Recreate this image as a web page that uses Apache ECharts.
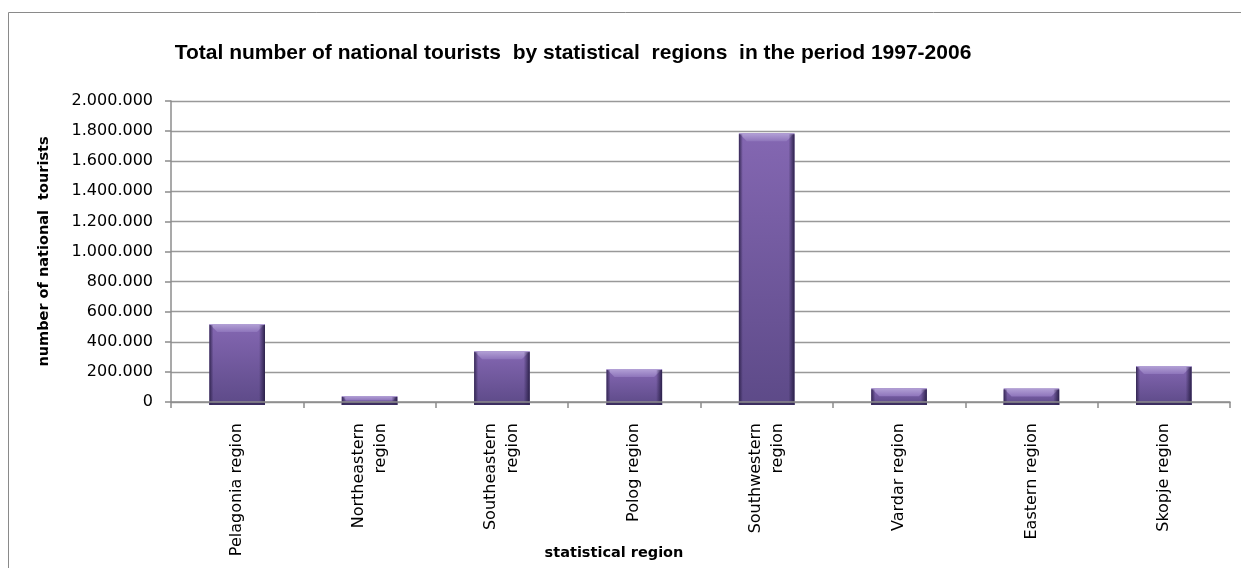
<!DOCTYPE html>
<html>
<head>
<meta charset="utf-8">
<script src="https://cdn.jsdelivr.net/npm/echarts@6/dist/echarts.min.js"></script>
<style>
  html, body { margin: 0; padding: 0; background: #fff; }
  #chart { width: 1241px; height: 568px; }
</style>
</head>
<body>
<div id="chart"></div>
<script>
// Statistical regions and the number of national tourists, 1997-2006
const regions = [
  'Pelagonia region',
  'Northeastern\nregion',
  'Southeastern\nregion',
  'Polog region',
  'Southwestern\nregion',
  'Vardar region',
  'Eastern region',
  'Skopje region'
];
const tourists = [518000, 40000, 338000, 219000, 1785000, 91000, 90000, 239000];

const yMin = 0;
const yMax = 2000000;
const yStep = 200000;

const chartTitle = 'Total number of national tourists  by statistical  regions  in the period 1997-2006';
const yTitle = 'number of national  tourists';
const xTitle = 'statistical region';

// thousands separated with dots
function dotted(v) {
  return String(v).replace(/\B(?=(\d{3})+(?!\d))/g, '.');
}

const labelFont = 'DejaVu Sans';

// bevelled column: gradient body, light top bevel, shaded sides
function renderBar(params, api) {
  const idx = api.value(0);
  const val = api.value(1);
  const top = api.coord([idx, val]);
  const base = api.coord([idx, 0]);
  const bw = api.size([1, 0])[0] * 0.42;
  const x0 = top[0] - bw / 2;
  const y0 = top[1];
  const y1 = base[1] + 3;
  const h = y1 - y0;
  const b = Math.min(8, h / 2);
  return {
    type: 'group',
    children: [
      {
        type: 'rect',
        shape: { x: x0, y: y0, width: bw, height: h },
        style: {
          fill: new echarts.graphic.LinearGradient(0, 0, 0, 1, [
            { offset: 0, color: '#8467b2' },
            { offset: 1, color: '#5d4a88' }
          ])
        }
      },
      {
        type: 'polygon',
        shape: { points: [[x0, y0], [x0 + bw, y0], [x0 + bw - b, y0 + b], [x0 + b, y0 + b]] },
        style: {
          fill: new echarts.graphic.LinearGradient(0, 0, 0, 1, [
            { offset: 0, color: '#b3a1d6' },
            { offset: 1, color: '#8e75bb' }
          ])
        }
      },
      {
        type: 'rect',
        shape: { x: x0, y: y0 + 1, width: 4, height: h - 1 },
        style: {
          fill: new echarts.graphic.LinearGradient(0, 0, 1, 0, [
            { offset: 0, color: 'rgba(45,33,75,0.9)' },
            { offset: 1, color: 'rgba(45,33,75,0)' }
          ])
        }
      },
      {
        type: 'rect',
        shape: { x: x0 + bw - 6, y: y0 + 1, width: 6, height: h - 1 },
        style: {
          fill: new echarts.graphic.LinearGradient(0, 0, 1, 0, [
            { offset: 0, color: 'rgba(40,30,70,0)' },
            { offset: 1, color: 'rgba(40,30,70,0.95)' }
          ])
        }
      },
      {
        type: 'rect',
        shape: { x: x0, y: y1 - 3, width: bw, height: 3 },
        style: { fill: 'rgba(55,42,90,0.85)' }
      }
    ]
  };
}

const chart = echarts.init(document.getElementById('chart'), null, { renderer: 'canvas' });

chart.setOption({
  backgroundColor: '#ffffff',
  animation: false,
  title: {
    text: chartTitle,
    left: 568,
    top: 38,
    textAlign: 'center',
    textStyle: {
      fontFamily: 'Liberation Sans',
      fontWeight: 'bold',
      fontSize: 21,
      color: '#000'
    }
  },
  grid: {
    left: 171,
    right: 11,
    top: 101,
    bottom: 166,
    containLabel: false
  },
  xAxis: {
    type: 'category',
    data: regions,
    z: 5,
    axisLine: { show: true, lineStyle: { color: '#8c8c8c', width: 1.5 } },
    axisTick: { show: true, length: 6, alignWithLabel: false, lineStyle: { color: '#8c8c8c', width: 1.5 } },
    axisLabel: {
      rotate: 90,
      margin: 21,
      interval: 0,
      fontFamily: labelFont,
      fontSize: 16,
      lineHeight: 22,
      color: '#000'
    },
    splitLine: { show: false }
  },
  yAxis: {
    type: 'value',
    min: yMin,
    max: yMax,
    interval: yStep,
    name: yTitle,
    nameLocation: 'middle',
    nameGap: 119,
    nameRotate: 90,
    nameTextStyle: {
      fontFamily: labelFont,
      fontWeight: 'bold',
      fontSize: 14.5,
      color: '#000'
    },
    axisLine: { show: true, lineStyle: { color: '#8c8c8c', width: 1.5 } },
    axisTick: { show: true, length: 6, lineStyle: { color: '#8c8c8c', width: 1.5 } },
    axisLabel: {
      margin: 18,
      fontFamily: labelFont,
      fontSize: 16,
      color: '#000',
      formatter: dotted
    },
    splitLine: { show: true, lineStyle: { color: '#999999', width: 1.4 } }
  },
  graphic: [
    {
      type: 'rect',
      shape: { x: 8.5, y: 12.5, width: 1300, height: 700 },
      style: { fill: null, stroke: '#8a8a8a', lineWidth: 1 },
      z: -1,
      silent: true
    },
    {
      type: 'text',
      x: 614,
      y: 553,
      style: {
        text: xTitle,
        fontFamily: labelFont,
        fontWeight: 'bold',
        fontSize: 14.5,
        fill: '#000',
        align: 'center',
        verticalAlign: 'middle'
      }
    }
  ],
  series: [
    {
      type: 'custom',
      renderItem: renderBar,
      encode: { x: 0, y: 1 },
      data: tourists.map((v, i) => [i, v]),
      z: 2
    }
  ]
});
</script>
</body>
</html>
